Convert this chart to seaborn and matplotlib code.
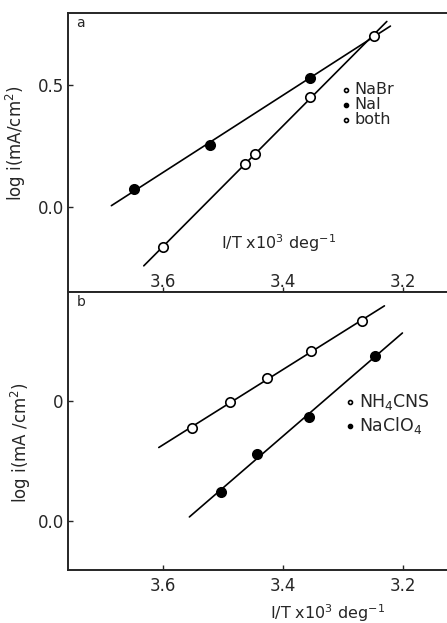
import numpy as np
import pandas as pd
import matplotlib
matplotlib.use("Agg")
import matplotlib.pyplot as plt
import seaborn as sns

# Panel a: log current density vs reciprocal temperature
nabr_x = [3.600, 3.464, 3.446, 3.355]
nabr_y = [-0.167, 0.176, 0.217, 0.452]
nai_x = [3.648, 3.522, 3.355]
nai_y = [0.073, 0.252, 0.530]
both_x = [3.248]
both_y = [0.703]
nabr_fit_range = [3.632, 3.227]
nai_fit_range = [3.686, 3.221]

# Panel b
nh4cns_x = [3.551, 3.488, 3.426, 3.354, 3.268]
nh4cns_y = [0.388, 0.493, 0.593, 0.708, 0.831]
naclo4_x = [3.504, 3.443, 3.356, 3.247]
naclo4_y = [0.121, 0.278, 0.431, 0.688]
nh4cns_fit_range = [3.607, 3.231]
naclo4_fit_range = [3.556, 3.201]

x_ticks = [3.6, 3.4, 3.2]
x_tick_labels = ["3.6", "3.4", "3.2"]
ya_ticks = [0.0, 0.5]
ya_tick_labels = ["0.0", "0.5"]
yb_ticks = [0.0, 0.5]
yb_tick_labels = ["0.0", "0"]

sns.set_style("ticks")
plt.rcParams["font.family"] = ["DejaVu Sans"]
plt.rcParams["axes.linewidth"] = 1.4

fig = plt.figure(figsize=(4.47, 6.23), dpi=100)
W, H = 447, 623
left, right = 68 / W, 1.0
ax_a = fig.add_axes([left, 1 - 292 / H, right - left, (292 - 13) / H])
ax_b = fig.add_axes([left, 1 - 570 / H, right - left, (570 - 292) / H])


def fit_line(ax, xs, ys, xr):
    k, b = np.polyfit(xs, ys, 1)
    xr = np.asarray(xr)
    df = pd.DataFrame({"x": xr, "y": k * xr + b})
    sns.lineplot(data=df, x="x", y="y", ax=ax, color="black", lw=1.2,
                 sort=False, estimator=None, legend=False)


def points(ax, xs, ys, filled, label):
    df = pd.DataFrame({"x": xs, "y": ys})
    sns.scatterplot(data=df, x="x", y="y", ax=ax, s=46,
                    facecolor="black" if filled else "white",
                    edgecolor="black", linewidth=1.2, label=label, zorder=3)


# ---- panel a ----
fit_line(ax_a, nabr_x + both_x, nabr_y + both_y, nabr_fit_range)
fit_line(ax_a, nai_x + both_x, nai_y + both_y, nai_fit_range)
points(ax_a, nabr_x, nabr_y, False, "NaBr")
points(ax_a, nai_x, nai_y, True, "NaI")
points(ax_a, both_x, both_y, False, "both")

# ---- panel b ----
fit_line(ax_b, nh4cns_x, nh4cns_y, nh4cns_fit_range)
fit_line(ax_b, naclo4_x, naclo4_y, naclo4_fit_range)
points(ax_b, nh4cns_x, nh4cns_y, False, "NH$_4$CNS")
points(ax_b, naclo4_x, naclo4_y, True, "NaClO$_4$")

xlim = (3.7583, 3.1267)
ax_a.set_xlim(*xlim)
ax_b.set_xlim(*xlim)
ax_a.set_ylim(-0.3506, 0.796)
ax_b.set_ylim(-0.2054, 0.9529)

for ax, yt, ytl in ((ax_a, ya_ticks, ya_tick_labels), (ax_b, yb_ticks, yb_tick_labels)):
    ax.set_xticks(x_ticks)
    ax.set_xticklabels(x_tick_labels)
    ax.set_yticks(yt)
    ax.set_yticklabels(ytl)
    ax.spines["right"].set_visible(False)
    ax.tick_params(direction="in", length=3.5, width=1.0, labelsize=12,
                   top=False, right=False)
    ax.tick_params(axis="y", pad=3)

ax_a.tick_params(axis="x", pad=-13.5)
ax_b.tick_params(axis="x", pad=5)

ax_a.set_xlabel("")
ax_a.set_ylabel("log i(mA/cm$^2$)", fontsize=12)
ax_a.yaxis.set_label_coords(-0.105, 0.534)
ax_a.text(0.557, 0.176, "I/T x10$^3$ deg$^{-1}$", transform=ax_a.transAxes,
          ha="center", va="center", fontsize=11.5)

ax_b.set_ylabel("log i(mA /cm$^2$)", fontsize=12)
ax_b.yaxis.set_label_coords(-0.093, 0.457)
ax_b.set_xlabel("I/T x10$^3$ deg$^{-1}$", fontsize=11.5)
ax_b.xaxis.set_label_coords(0.686, -0.115)

ax_a.text(0.022, 0.965, "a", transform=ax_a.transAxes, fontsize=10,
          ha="left", va="center")
ax_b.text(0.022, 0.965, "b", transform=ax_b.transAxes, fontsize=10,
          ha="left", va="center")

leg_kw = dict(frameon=False, markerscale=0.42, handlelength=0.4,
              handletextpad=0.3, borderpad=0, borderaxespad=0,
              loc="upper left")
ax_a.legend(labelspacing=0.0, fontsize=11.5,
            bbox_to_anchor=((343 - 68) / 379, (292 - 82) / 279), **leg_kw)
ax_b.legend(labelspacing=0.15, fontsize=12.5,
            bbox_to_anchor=((347 - 68) / 379, (570 - 392) / 278), **leg_kw)

fig.savefig("out.png", dpi=100)
